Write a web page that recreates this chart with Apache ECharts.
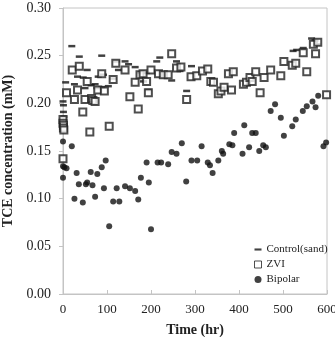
<!DOCTYPE html>
<html>
<head>
<meta charset="utf-8">
<script src="https://cdn.jsdelivr.net/npm/echarts@6/dist/echarts.min.js"></script>
<style>
  html, body { margin: 0; padding: 0; background: #fff; }
  #chart { width: 335px; height: 337px; }
</style>
</head>
<body>
<div id="chart"></div>
<script>
// time (hr), TCE (mM)
var controlSand = [
  [0, 0.202], [1, 0.198], [1, 0.191], [2, 0.186],
  [6, 0.222], [20, 0.260], [26, 0.220], [33, 0.228], [37, 0.249], [46, 0.227],
  [50, 0.216], [55, 0.235], [64, 0.219], [73, 0.220], [77, 0.216], [80, 0.228],
  [88, 0.250], [88, 0.217], [92, 0.230], [103, 0.218], [114, 0.226], [122, 0.244],
  [126, 0.235], [141, 0.244], [149, 0.241], [164, 0.238], [177, 0.232], [183, 0.223],
  [190, 0.232], [194, 0.214], [213, 0.244], [220, 0.248], [247, 0.224], [258, 0.244],
  [266, 0.234], [281, 0.213], [292, 0.239],
  [523, 0.255], [531, 0.256], [546, 0.258], [565, 0.268], [573, 0.266], [578, 0.262]
];
var zvi = [
  [0, 0.183], [0, 0.179], [1, 0.177], [1, 0.174], [2, 0.172], [0, 0.142],
  [8, 0.211], [21, 0.235], [26, 0.204], [33, 0.214], [37, 0.239], [45, 0.191],
  [50, 0.204], [55, 0.223], [61, 0.170], [65, 0.205], [68, 0.203], [73, 0.202],
  [79, 0.214], [88, 0.231], [94, 0.213], [105, 0.176], [114, 0.225], [120, 0.242],
  [141, 0.235], [152, 0.207], [164, 0.222], [171, 0.194], [175, 0.230], [182, 0.231],
  [190, 0.223], [194, 0.211], [200, 0.235], [217, 0.231], [228, 0.230], [239, 0.230],
  [247, 0.252], [258, 0.237], [268, 0.238], [281, 0.204], [291, 0.228], [304, 0.229],
  [317, 0.234], [329, 0.236], [336, 0.223], [342, 0.222], [353, 0.210], [359, 0.213],
  [366, 0.217], [376, 0.231], [383, 0.214], [387, 0.233], [410, 0.220], [417, 0.222],
  [425, 0.227], [430, 0.223], [438, 0.233], [448, 0.211], [457, 0.227], [472, 0.235],
  [495, 0.229], [502, 0.244], [521, 0.240], [529, 0.242], [546, 0.253], [554, 0.233],
  [569, 0.262], [574, 0.252], [579, 0.264], [599, 0.209]
];
var bipolar = [
  [0, 0.160], [20, 0.155], [0, 0.134], [3, 0.133], [8, 0.132], [0, 0.122],
  [31, 0.127], [36, 0.115], [26, 0.100], [45, 0.096], [52, 0.115], [55, 0.117],
  [63, 0.128], [67, 0.114], [73, 0.102], [78, 0.126], [88, 0.133], [97, 0.140],
  [93, 0.111], [105, 0.071], [114, 0.097], [128, 0.097], [122, 0.111], [141, 0.113],
  [152, 0.111], [164, 0.108], [171, 0.099], [177, 0.122], [190, 0.138], [195, 0.117],
  [200, 0.068], [215, 0.138], [223, 0.138], [239, 0.136], [247, 0.149], [258, 0.147],
  [270, 0.158], [280, 0.118], [292, 0.140], [305, 0.140], [315, 0.155], [329, 0.138],
  [334, 0.135], [340, 0.127], [353, 0.140], [361, 0.150], [364, 0.147], [378, 0.157],
  [385, 0.156], [389, 0.169], [408, 0.147], [412, 0.177], [423, 0.154], [430, 0.169],
  [438, 0.169], [446, 0.150], [455, 0.156], [461, 0.154], [472, 0.192], [482, 0.199],
  [495, 0.185], [502, 0.166], [521, 0.176], [529, 0.183], [545, 0.192], [554, 0.197],
  [567, 0.202], [574, 0.196], [580, 0.208], [592, 0.155], [598, 0.159]
];
var seriesNames = ['Control(sand)', 'ZVI', 'Bipolar'];

var font = '"Liberation Serif", "Times New Roman", serif';
var dash = 'path://M0,0H8V2.4H0Z';

var chart = echarts.init(document.getElementById('chart'));
var option = {
  animation: false,
  textStyle: { fontFamily: font },
  grid: {
    left: 63, right: 8, top: 8, bottom: 43,
    containLabel: false, outerBoundsMode: 'none',
    show: true, borderColor: '#c4c4c4', borderWidth: 1
  },
  legend: {
    orient: 'vertical',
    left: 249, top: 239,
    itemWidth: 7, itemHeight: 7, itemGap: 4,
    textStyle: { fontFamily: font, fontSize: 11, color: '#222' },
    data: [
      { name: seriesNames[0], icon: dash },
      { name: seriesNames[1], icon: 'rect',
        itemStyle: { color: '#fff', borderColor: '#222', borderWidth: 1 } },
      { name: seriesNames[2], icon: 'circle', itemStyle: { color: '#111' } }
    ]
  },
  xAxis: {
    type: 'value', min: 0, max: 600, interval: 100,
    name: 'Time (hr)', nameLocation: 'middle', nameGap: 29,
    nameTextStyle: { fontFamily: font, fontSize: 14, fontWeight: 'bold', color: '#222' },
    axisLine: { lineStyle: { color: '#c4c4c4' } },
    axisTick: { inside: true, length: 4, lineStyle: { color: '#c4c4c4' } },
    axisLabel: { fontFamily: font, fontSize: 13, color: '#222', margin: 9 },
    splitLine: { show: false }
  },
  yAxis: {
    type: 'value', min: 0, max: 0.3, interval: 0.05,
    name: 'TCE concentration (mM)', nameLocation: 'middle', nameGap: 45,
    nameTextStyle: { fontFamily: font, fontSize: 14, fontWeight: 'bold', color: '#222' },
    axisLine: { show: true, lineStyle: { color: '#c4c4c4' } },
    axisTick: { show: true, length: 4, lineStyle: { color: '#c4c4c4' } },
    axisLabel: {
      fontFamily: font, fontSize: 14, color: '#222', margin: 12,
      formatter: function (v) { return v.toFixed(2); }
    },
    splitLine: { show: false }
  },
  series: [
    {
      name: seriesNames[0], type: 'scatter', data: controlSand,
      symbol: 'rect', symbolSize: [7, 2.5],
      itemStyle: { color: '#111' }
    },
    {
      name: seriesNames[1], type: 'scatter', data: zvi,
      symbol: 'emptyRect', symbolSize: 7,
      itemStyle: { color: '#222', borderWidth: 1.2 }
    },
    {
      name: seriesNames[2], type: 'scatter', data: bipolar,
      symbol: 'circle', symbolSize: 6,
      itemStyle: { color: '#111' }
    }
  ]
};
chart.setOption(option);
</script>
</body>
</html>
